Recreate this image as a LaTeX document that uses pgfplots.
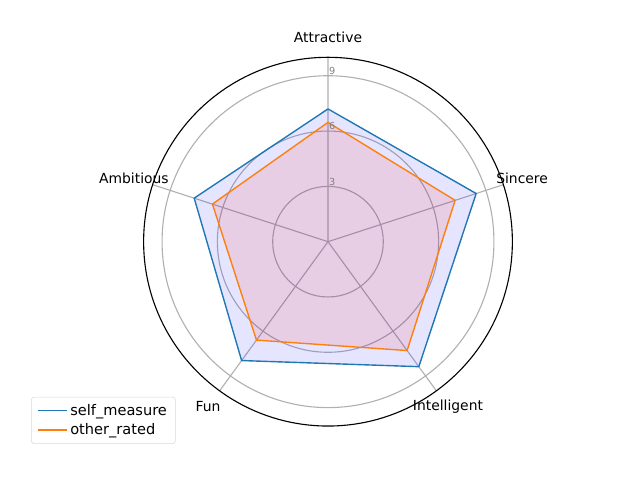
\documentclass[border=0pt]{standalone}
\usepackage{fontspec}
\setmainfont{DejaVu Sans}
\usepackage{pgfplots}
\pgfplotsset{compat=1.18}
\usepgfplotslibrary{polar}

\definecolor{mplblue}{HTML}{1F77B4}
\definecolor{mplorange}{HTML}{FF7F0E}
\definecolor{gridgray}{HTML}{B0B0B0}
\tikzset{radial label/.style={anchor=south west, inner sep=0.6pt, text=gray,
        font=\fontsize{7}{8}\selectfont}}

\begin{document}
\begin{tikzpicture}
\path[use as bounding box] (0,0) rectangle (460.8pt,345.6pt);
\begin{polaraxis}[
    at={(236.16pt,171.6pt)}, anchor=center,
    scale only axis, width=265.5pt, height=265.5pt,
    xmin=0, xmax=360, ymin=0, ymax=10,
    xtick={18,90,162,234,306}, xticklabels={},
    ytick={3,6,9}, yticklabels={},
    grid=major,
    major grid style={gridgray, line width=0.8pt},
    x axis line style={black, line width=0.8pt},
    y axis line style={draw=none},
    tick style={draw=none},
    clip=false,
    no markers,
    legend style={at={(axis description cs:-0.305,-0.0485)}, anchor=south west,
        draw=black!15, rounded corners=2pt,
        font=\fontsize{10.5}{12.5}\selectfont,
        row sep=0.5pt, inner xsep=4pt, inner ysep=3pt},
    legend cell align=left,
    legend image code/.code={\draw[#1, line width=1pt] (0pt,0pt) -- (21pt,0pt);},
]
% self_measure
\addplot[draw=none, fill=blue, fill opacity=0.1, forget plot] coordinates {
    (90,7.20) (18,8.45) (306,8.38) (234,7.97) (162,7.63) (90,7.20)
};
\addplot[mplblue, line width=1pt] coordinates {
    (90,7.20) (18,8.45) (306,8.38) (234,7.97) (162,7.63) (90,7.20)
};
\addlegendentry{self\_measure}
% other_rated
\addplot[draw=none, fill=red, fill opacity=0.1, forget plot] coordinates {
    (90,6.47) (18,7.25) (306,7.30) (234,6.60) (162,6.59) (90,6.47)
};
\addplot[mplorange, line width=1pt] coordinates {
    (90,6.47) (18,7.25) (306,7.30) (234,6.60) (162,6.59) (90,6.47)
};
\addlegendentry{other\_rated}

% angular labels
\node at (axis cs:90,11.07) {Attractive};
\node at (axis cs:18,11.07) {Sincere};
\node at (axis cs:306,11.07) {Intelligent};
\node at (axis cs:234,11.07) {Fun};
\node at (axis cs:162,11.07) {Ambitious};
% radial labels
\node[radial label] at (axis cs:90,3) {3};
\node[radial label] at (axis cs:90,6) {6};
\node[radial label] at (axis cs:90,9) {9};
\end{polaraxis}
\end{tikzpicture}
\end{document}
